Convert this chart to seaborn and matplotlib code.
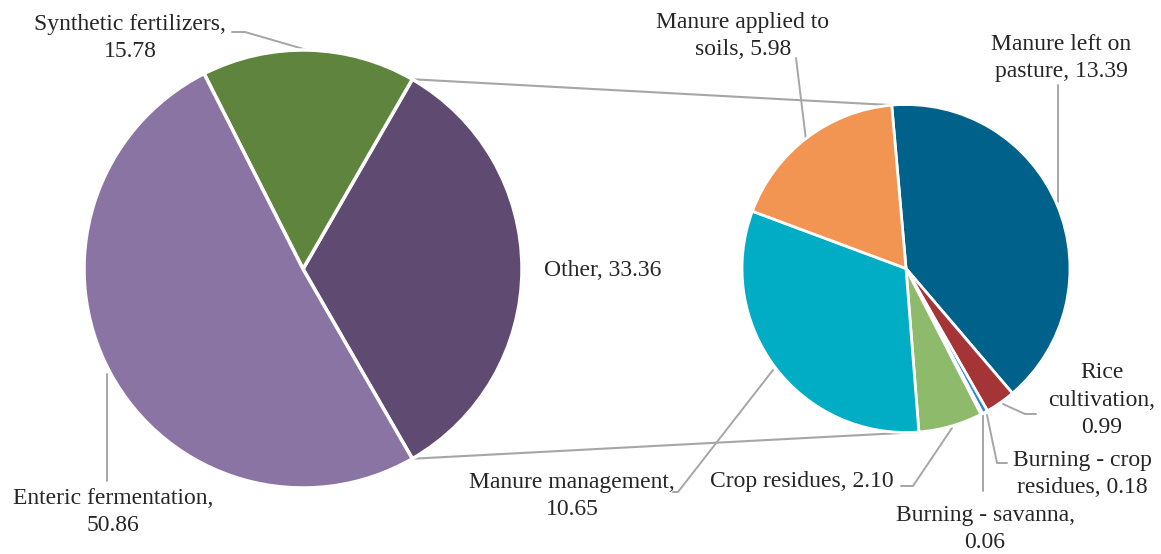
import numpy as np
import seaborn as sns
import matplotlib.pyplot as plt

# data
main_labels = ["Other", "Synthetic fertilizers", "Enteric fermentation"]
main_values = [33.36, 15.78, 50.86]

sub_labels = ["Manure left on pasture", "Rice cultivation", "Burning - crop residues",
              "Burning - savanna", "Crop residues", "Manure management",
              "Manure applied to soils"]
sub_values = [13.39, 0.99, 0.18, 0.06, 2.10, 10.65, 5.98]

main_colors = ["#5F4A72", "#5E843D", "#8A74A3"]
sub_colors = ["#00618A", "#A43436", "#2E86D1", "#9DC3E6", "#8DBB6B", "#00ADC5", "#F39552"]

W, H = 1161, 554
sns.set_theme(style="white")
plt.rcParams['font.family'] = ['Liberation Serif', 'DejaVu Serif']

fig = plt.figure(figsize=(W / 100, H / 100), dpi=100)
ax = fig.add_axes([0, 0, 1, 1])

# pixel coords helper (y measured from top)
def P(x, y):
    return x, H - y

c1, r1 = P(303, 269), 219
c2, r2 = P(906, 268.5), 164

start1 = -main_values[0] / sum(main_values) * 360 / 2
w1, _ = ax.pie(main_values, colors=main_colors, startangle=start1, counterclock=True,
               center=c1, radius=r1,
               wedgeprops=dict(edgecolor="white", linewidth=2.5))
w2, _ = ax.pie(sub_values, colors=sub_colors, startangle=95, counterclock=False,
               center=c2, radius=r2,
               wedgeprops=dict(edgecolor="white", linewidth=2))

ax.set_xlim(0, W)
ax.set_ylim(0, H)
ax.set_aspect("equal")
ax.axis("off")

# connector lines between pies
def pt(c, r, ang):
    a = np.deg2rad(ang)
    return c[0] + r * np.cos(a), c[1] + r * np.sin(a)

other = w1[0]
for a1, a2 in [(other.theta2, 95), (other.theta1, -86)]:
    x0, y0 = pt(c1, r1, a1)
    x1, y1 = pt(c2, r2, a2)
    ax.plot([x0, x1], [y0, y1], color="#A6A6A6", lw=1.5, zorder=0)

# leader lines (pixel coords)
leaders = [
    [(232, 32), (245, 32), (307, 50)],
    [(796, 58), (806, 140)],
    [(1058, 85), (1058, 202)],
    [(1003, 404), (1025, 414), (1036, 414)],
    [(987, 415), (997, 463), (1007, 463)],
    [(983, 415), (983, 491)],
    [(952, 428), (913, 486), (901, 486)],
    [(773, 370), (678, 492), (673, 492)],
    [(107, 374), (107, 481)],
]
for path in leaders:
    xs, ys = zip(*[P(x, y) for x, y in path])
    ax.plot(xs, ys, color="#A6A6A6", lw=1.4, zorder=0)

# data labels
label_text = {
    "Synthetic fertilizers": "Synthetic fertilizers,\n{:.2f}",
    "Other": "Other, {:.2f}",
    "Enteric fermentation": "Enteric fermentation,\n{:.2f}",
    "Manure applied to soils": "Manure applied to\nsoils, {:.2f}",
    "Manure left on pasture": "Manure left on\npasture, {:.2f}",
    "Rice cultivation": "Rice\ncultivation,\n{:.2f}",
    "Burning - crop residues": "Burning - crop\nresidues, {:.2f}",
    "Burning - savanna": "Burning - savanna,\n{:.2f}",
    "Crop residues": "Crop residues, {:.2f}",
    "Manure management": "Manure management,\n{:.2f}",
}
label_pos = {
    "Synthetic fertilizers": (130, 38),
    "Other": (603, 270),
    "Enteric fermentation": (113, 512),
    "Manure applied to soils": (743, 36),
    "Manure left on pasture": (1061, 58),
    "Rice cultivation": (1102, 400),
    "Burning - crop residues": (1082, 474),
    "Burning - savanna": (985, 529),
    "Crop residues": (802, 481),
    "Manure management": (572, 496),
}
values = dict(zip(main_labels + sub_labels, main_values + sub_values))
for name, (x, y) in label_pos.items():
    ax.text(*P(x, y), label_text[name].format(values[name]), ha="center", va="center",
            fontsize=17, color="#262626", linespacing=1.4)

fig.savefig("out.png", dpi=100)
